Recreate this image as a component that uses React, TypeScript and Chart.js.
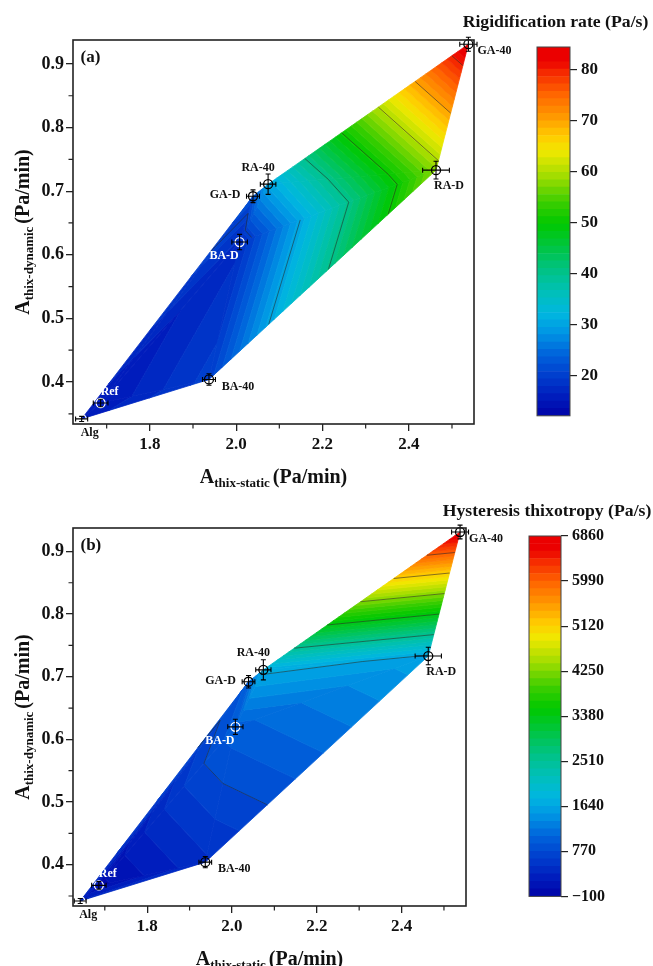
import React, { useEffect, useRef } from 'react';
import { Chart, registerables } from 'chart.js';

Chart.register(...registerables);

const SERIF = '"Liberation Serif", "Times New Roman", Times, serif';
Chart.defaults.font.family = SERIF;

// ---------------- data ----------------
const SAMPLES = ['Alg', 'Ref', 'BA-40', 'BA-D', 'GA-D', 'RA-40', 'RA-D', 'GA-40'];
const A_STATIC = [1.642, 1.686, 1.937, 2.008, 2.039, 2.074, 2.463, 2.538];
const A_DYNAMIC = [0.342, 0.367, 0.404, 0.62, 0.692, 0.711, 0.733, 0.931];
const A_STATIC_ERR = [0.014, 0.017, 0.015, 0.018, 0.015, 0.018, 0.031, 0.02];
const A_DYNAMIC_ERR = [0.004, 0.006, 0.009, 0.012, 0.01, 0.016, 0.014, 0.011];
const RIGIDIFICATION_RATE = [15.5, 15, 20, 17.5, 21.5, 30, 58, 84.5];
const HYSTERESIS_THIXOTROPY = [350, 0, 450, 1000, 950, 1700, 1600, 6860];
// interpolation mesh (indices into the sample arrays)
const TRIANGLES = [
  [0, 1, 2], [0, 1, 4], [1, 2, 3], [1, 3, 4],
  [2, 3, 6], [3, 6, 5], [3, 5, 4], [5, 6, 7],
];
const X_TICKS = [1.8, 2.0, 2.2, 2.4];
const X_MINOR_TICKS = [1.7, 1.9, 2.1, 2.3, 2.5];
const Y_TICKS = [0.4, 0.5, 0.6, 0.7, 0.8, 0.9];
const Y_MINOR_TICKS = [0.35, 0.45, 0.55, 0.65, 0.75, 0.85];
const RIGID_TICKS = [20, 30, 40, 50, 60, 70, 80];
const RIGID_RANGE = [12.1, 84.5];
const HYST_TICKS = [-100, 770, 1640, 2510, 3380, 4250, 5120, 5990, 6860];
const HYST_RANGE = [-100, 6860];

// ---------------- styles ----------------
const LABEL_STYLE = [
  { dx: 8, dy: 14, color: '#111' },
  { dx: 9, dy: -11, color: '#fff' },
  { dx: 29, dy: 7, color: '#111' },
  { dx: -15.5, dy: 14, color: '#fff' },
  { dx: -28, dy: -1, color: '#111' },
  { dx: -10, dy: -16.5, color: '#111' },
  { dx: 13, dy: 16, color: '#111' },
  { dx: 26, dy: 7, color: '#111' },
];
const MARKER_EDGE = ['#fff', '#fff', '#000', '#fff', '#000', '#000', '#000', '#000'];

const CMAP_STOPS: [number, number[]][] = [
  [0.0, [0, 8, 172]], [0.04, [0, 28, 188]], [0.1, [0, 62, 206]], [0.16, [0, 100, 220]],
  [0.22, [0, 150, 228]], [0.27, [0, 182, 224]], [0.33, [0, 192, 185]], [0.4, [0, 195, 125]],
  [0.47, [0, 198, 50]], [0.52, [0, 200, 0]], [0.58, [60, 206, 0]], [0.65, [160, 220, 0]],
  [0.72, [240, 232, 0]], [0.76, [255, 205, 0]], [0.82, [255, 150, 0]], [0.88, [255, 100, 0]],
  [0.94, [245, 40, 0]], [0.97, [235, 0, 0]], [1.0, [235, 0, 0]],
];

function colormap(f: number) {
  f = Math.max(0, Math.min(1, f));
  for (let i = 1; i < CMAP_STOPS.length; i++) {
    const [f1, c1] = CMAP_STOPS[i];
    const [f0, c0] = CMAP_STOPS[i - 1];
    if (f <= f1) {
      const t = (f - f0) / (f1 - f0 || 1);
      const c = c0.map((v, k) => Math.round(v + (c1[k] - v) * t));
      return `rgb(${c[0]},${c[1]},${c[2]})`;
    }
  }
  return 'rgb(235,0,0)';
}

type Pt = { x: number; y: number; v: number };
function clipHalf(poly: Pt[], f: (p: Pt) => number): Pt[] {
  const out: Pt[] = [];
  for (let i = 0; i < poly.length; i++) {
    const a = poly[i];
    const b = poly[(i + 1) % poly.length];
    const fa = f(a);
    const fb = f(b);
    if (fa >= 0) out.push(a);
    if (fa >= 0 !== fb >= 0) {
      const t = fa / (fa - fb);
      out.push({ x: a.x + (b.x - a.x) * t, y: a.y + (b.y - a.y) * t, v: a.v + (b.v - a.v) * t });
    }
  }
  return out;
}

function drawRich(ctx: CanvasRenderingContext2D, segs: any[], cx: number, base: number, angle: number, color = '#111') {
  ctx.save();
  ctx.translate(cx, base);
  ctx.rotate(angle);
  ctx.fillStyle = color;
  ctx.textAlign = 'left';
  ctx.textBaseline = 'alphabetic';
  let total = 0;
  const ws = segs.map((s) => {
    ctx.font = `bold ${s.size}px ${SERIF}`;
    const w = ctx.measureText(s.text).width;
    total += w + (s.gap || 0);
    return w;
  });
  let x = -total / 2;
  segs.forEach((s, i) => {
    ctx.font = `bold ${s.size}px ${SERIF}`;
    ctx.fillText(s.text, x, s.dy || 0);
    x += ws[i] + (s.gap || 0);
  });
  ctx.restore();
}

type Box = { left: number; top: number; right: number; bottom: number };
type PanelSpec = {
  tag: string;
  top: number;
  height: number;
  area: Box;
  xMin: number; xMax: number; yMin: number; yMax: number;
  values: number[];
  range: number[];
  cbTicks: number[];
  lineLevels: number[];
  bands: number;
  cb: Box;
  cbCanvas: { left: number; top: number; width: number; height: number };
  cbTitle: string;
  cbTitleBaseline: number;
  cbFont: number;
};

const PANEL_A: PanelSpec = {
  tag: '(a)', top: 0, height: 490,
  area: { left: 73, top: 40, right: 474, bottom: 424 },
  xMin: 1.622, xMax: 2.551, yMin: 0.334, yMax: 0.9376,
  values: RIGIDIFICATION_RATE, range: RIGID_RANGE, cbTicks: RIGID_TICKS,
  lineLevels: RIGID_TICKS, bands: 50,
  cb: { left: 537, top: 47, right: 570, bottom: 416 },
  cbCanvas: { left: 460, top: 0, width: 193, height: 430 },
  cbTitle: 'Rigidification rate (Pa/s)', cbTitleBaseline: 27, cbFont: 17,
};
const PANEL_B: PanelSpec = {
  tag: '(b)', top: 490, height: 476,
  area: { left: 73, top: 528, right: 466, bottom: 906 },
  xMin: 1.625, xMax: 2.552, yMin: 0.334, yMax: 0.9374,
  values: HYSTERESIS_THIXOTROPY, range: HYST_RANGE, cbTicks: HYST_TICKS,
  lineLevels: HYST_TICKS.slice(1, -1), bands: 48,
  cb: { left: 529, top: 536, right: 561, bottom: 898 },
  cbCanvas: { left: 440, top: 490, width: 213, height: 420 },
  cbTitle: 'Hysteresis thixotropy (Pa/s)', cbTitleBaseline: 516, cbFont: 16,
};

function Panel({ spec }: { spec: PanelSpec }) {
  const mainRef = useRef<HTMLCanvasElement>(null);
  const cbRef = useRef<HTMLCanvasElement>(null);

  useEffect(() => {
    const [vMin, vMax] = spec.range;
    const levels: number[] = [];
    for (let k = 0; k <= spec.bands; k++) levels.push(vMin + ((vMax - vMin) * k) / spec.bands);
    const colors = levels.slice(0, -1).map((_, k) => colormap(k / (spec.bands - 1)));
    const { area } = spec;

    const contourPlugin = {
      id: 'contour',
      beforeDatasetsDraw(chart: any) {
        const { ctx } = chart;
        const xs = chart.scales.x;
        const ys = chart.scales.y;
        const P: Pt[] = A_STATIC.map((x, i) => ({
          x: xs.getPixelForValue(x), y: ys.getPixelForValue(A_DYNAMIC[i]), v: spec.values[i],
        }));
        ctx.save();
        TRIANGLES.forEach((t) => {
          const tri = t.map((i) => P[i]);
          for (let k = 0; k < levels.length - 1; k++) {
            const lo = k === 0 ? -1e12 : levels[k];
            const hi = k === levels.length - 2 ? 1e12 : levels[k + 1];
            const poly = clipHalf(clipHalf(tri, (p) => p.v - lo), (p) => hi - p.v);
            if (poly.length < 3) continue;
            ctx.beginPath();
            poly.forEach((p, j) => (j ? ctx.lineTo(p.x, p.y) : ctx.moveTo(p.x, p.y)));
            ctx.closePath();
            ctx.fillStyle = colors[k];
            ctx.strokeStyle = colors[k];
            ctx.lineWidth = 0.8;
            ctx.fill();
            ctx.stroke();
          }
        });
        // contour lines
        ctx.strokeStyle = 'rgba(40,40,40,0.8)';
        ctx.lineWidth = 0.7;
        TRIANGLES.forEach((t) => {
          const tri = t.map((i) => P[i]);
          spec.lineLevels.forEach((L) => {
            const pts: { x: number; y: number }[] = [];
            for (let e = 0; e < 3; e++) {
              const a = tri[e];
              const b = tri[(e + 1) % 3];
              if ((a.v - L) * (b.v - L) < 0) {
                const u = (L - a.v) / (b.v - a.v);
                pts.push({ x: a.x + (b.x - a.x) * u, y: a.y + (b.y - a.y) * u });
              }
            }
            if (pts.length === 2) {
              ctx.beginPath();
              ctx.moveTo(pts[0].x, pts[0].y);
              ctx.lineTo(pts[1].x, pts[1].y);
              ctx.stroke();
            }
          });
        });
        ctx.restore();
      },
      afterDatasetsDraw(chart: any) {
        const { ctx } = chart;
        const xs = chart.scales.x;
        const ys = chart.scales.y;
        ctx.save();
        ctx.strokeStyle = '#000';
        ctx.lineWidth = 1.1;
        A_STATIC.forEach((xv, i) => {
          const px = xs.getPixelForValue(xv);
          const py = ys.getPixelForValue(A_DYNAMIC[i]);
          const x1 = xs.getPixelForValue(xv - A_STATIC_ERR[i]);
          const x2 = xs.getPixelForValue(xv + A_STATIC_ERR[i]);
          const y1 = ys.getPixelForValue(A_DYNAMIC[i] - A_DYNAMIC_ERR[i]);
          const y2 = ys.getPixelForValue(A_DYNAMIC[i] + A_DYNAMIC_ERR[i]);
          const c = 2.5;
          ctx.beginPath();
          ctx.moveTo(x1, py); ctx.lineTo(x2, py);
          ctx.moveTo(px, y1); ctx.lineTo(px, y2);
          ctx.moveTo(x1, py - c); ctx.lineTo(x1, py + c);
          ctx.moveTo(x2, py - c); ctx.lineTo(x2, py + c);
          ctx.moveTo(px - c, y1); ctx.lineTo(px + c, y1);
          ctx.moveTo(px - c, y2); ctx.lineTo(px + c, y2);
          ctx.stroke();
        });
        ctx.font = `bold 12px ${SERIF}`;
        ctx.textAlign = 'center';
        ctx.textBaseline = 'middle';
        SAMPLES.forEach((name, i) => {
          const px = xs.getPixelForValue(A_STATIC[i]);
          const py = ys.getPixelForValue(A_DYNAMIC[i]);
          ctx.fillStyle = LABEL_STYLE[i].color;
          ctx.fillText(name, px + LABEL_STYLE[i].dx, py + LABEL_STYLE[i].dy);
        });
        ctx.restore();
      },
      afterDraw(chart: any) {
        const { ctx, chartArea: ca } = chart;
        const xs = chart.scales.x;
        const ys = chart.scales.y;
        ctx.save();
        ctx.strokeStyle = '#222';
        ctx.lineWidth = 1.6;
        ctx.strokeRect(ca.left, ca.top, ca.right - ca.left, ca.bottom - ca.top);
        ctx.lineWidth = 1.2;
        ctx.beginPath();
        X_MINOR_TICKS.forEach((v) => {
          const px = xs.getPixelForValue(v);
          ctx.moveTo(px, ca.bottom); ctx.lineTo(px, ca.bottom + 4.5);
        });
        Y_MINOR_TICKS.forEach((v) => {
          const py = ys.getPixelForValue(v);
          ctx.moveTo(ca.left - 4.5, py); ctx.lineTo(ca.left, py);
        });
        ctx.stroke();
        // panel tag
        ctx.fillStyle = '#111';
        ctx.font = `bold 17px ${SERIF}`;
        ctx.textAlign = 'left';
        ctx.textBaseline = 'middle';
        ctx.fillText(spec.tag, ca.left + 7.5, ca.top + 18);
        // axis titles
        drawRich(ctx, [
          { text: 'A', size: 20 },
          { text: 'thix-static', size: 13, dy: 4, gap: 3 },
          { text: '(Pa/min)', size: 20 },
        ], (ca.left + ca.right) / 2, ca.bottom + 59, 0);
        drawRich(ctx, [
          { text: 'A', size: 20 },
          { text: 'thix-dynamic', size: 13, dy: 4, gap: 3 },
          { text: '(Pa/min)', size: 20 },
        ], 29, (ca.top + ca.bottom) / 2, -Math.PI / 2);
        ctx.restore();
      },
    };

    const main = new Chart(mainRef.current as HTMLCanvasElement, {
      type: 'scatter',
      data: {
        datasets: [{
          data: A_STATIC.map((x, i) => ({ x, y: A_DYNAMIC[i] })),
          pointRadius: 4.5,
          pointHoverRadius: 4.5,
          pointBackgroundColor: 'rgba(0,0,0,0)',
          backgroundColor: 'rgba(0,0,0,0)',
          pointBorderColor: MARKER_EDGE,
          pointBorderWidth: 1.3,
          clip: false,
        } as any],
      },
      options: {
        animation: false,
        responsive: false,
        devicePixelRatio: 1,
        events: [],
        layout: { padding: { left: 0, top: area.top - spec.top, right: 653 - area.right, bottom: 0 } },
        plugins: { legend: { display: false }, tooltip: { enabled: false } },
        scales: {
          x: {
            type: 'linear', min: spec.xMin, max: spec.xMax,
            afterBuildTicks: (s: any) => { s.ticks = X_TICKS.map((value) => ({ value })); },
            afterFit: (s: any) => { s.height = spec.top + spec.height - area.bottom; },
            ticks: {
              font: { size: 17, weight: 'bold', family: SERIF }, color: '#111', padding: 3,
              maxRotation: 0, autoSkip: false,
              callback: (v: any) => Number(v).toFixed(1),
            },
            grid: { drawOnChartArea: false, drawTicks: true, tickLength: 7, color: '#222', lineWidth: 1.3 },
            border: { display: false },
          },
          y: {
            type: 'linear', min: spec.yMin, max: spec.yMax,
            afterBuildTicks: (s: any) => { s.ticks = Y_TICKS.map((value) => ({ value })); },
            afterFit: (s: any) => { s.width = area.left; },
            ticks: {
              font: { size: 18, weight: 'bold', family: SERIF }, color: '#111', padding: 2,
              autoSkip: false,
              callback: (v: any) => Number(v).toFixed(1),
            },
            grid: { drawOnChartArea: false, drawTicks: true, tickLength: 7, color: '#222', lineWidth: 1.3 },
            border: { display: false },
          },
        },
      } as any,
      plugins: [contourPlugin],
    });

    const cbc = spec.cbCanvas;
    const cbPlugin = {
      id: 'cbframe',
      afterDraw(chart: any) {
        const { ctx, chartArea: ca } = chart;
        ctx.save();
        ctx.strokeStyle = '#444';
        ctx.lineWidth = 1;
        ctx.strokeRect(ca.left, ca.top, ca.right - ca.left, ca.bottom - ca.top);
        ctx.fillStyle = '#111';
        ctx.font = `bold 17.7px ${SERIF}`;
        ctx.textAlign = 'center';
        ctx.textBaseline = 'alphabetic';
        ctx.fillText(spec.cbTitle, (ca.left + ca.right) / 2 + 2, spec.cbTitleBaseline - cbc.top);
        ctx.restore();
      },
    };
    const bandSets = colors.map((c, k) => ({
      data: [[levels[k], levels[k + 1]]],
      backgroundColor: c,
      borderWidth: 0,
      barPercentage: 1,
      categoryPercentage: 1,
      grouped: false,
    }));
    const cb = new Chart(cbRef.current as HTMLCanvasElement, {
      type: 'bar',
      data: { labels: [''], datasets: bandSets as any },
      options: {
        animation: false,
        responsive: false,
        devicePixelRatio: 1,
        events: [],
        layout: {
          padding: {
            left: spec.cb.left - cbc.left,
            top: spec.cb.top - cbc.top,
            right: 0,
            bottom: cbc.top + cbc.height - spec.cb.bottom,
          },
        },
        plugins: { legend: { display: false }, tooltip: { enabled: false } },
        scales: {
          x: { display: false },
          y: {
            type: 'linear', position: 'right', min: vMin, max: vMax,
            afterBuildTicks: (s: any) => { s.ticks = spec.cbTicks.map((value) => ({ value })); },
            afterFit: (s: any) => { s.width = cbc.width - (spec.cb.right - cbc.left); },
            ticks: {
              font: { size: spec.cbFont, weight: 'bold', family: SERIF }, color: '#111', padding: 4,
              autoSkip: false,
              callback: (v: any) => (Number(v) < 0 ? '\u2212' + Math.abs(Number(v)) : String(v)),
            },
            grid: { drawOnChartArea: false, drawTicks: true, tickLength: 7, color: '#222', lineWidth: 1.2 },
            border: { display: false },
          },
        },
      } as any,
      plugins: [cbPlugin],
    });

    return () => {
      main.destroy();
      cb.destroy();
    };
  }, [spec]);

  const cbc = spec.cbCanvas;
  return (
    <>
      <canvas
        ref={mainRef}
        width={653}
        height={spec.height}
        style={{ position: 'absolute', left: 0, top: spec.top, width: 653, height: spec.height }}
      />
      <canvas
        ref={cbRef}
        width={cbc.width}
        height={cbc.height}
        style={{ position: 'absolute', left: cbc.left, top: cbc.top, width: cbc.width, height: cbc.height }}
      />
    </>
  );
}

export default function App() {
  return (
    <div style={{ position: 'absolute', left: 0, top: 0, width: 653, height: 966, background: '#fff', overflow: 'hidden' }}>
      <Panel spec={PANEL_A} />
      <Panel spec={PANEL_B} />
    </div>
  );
}
